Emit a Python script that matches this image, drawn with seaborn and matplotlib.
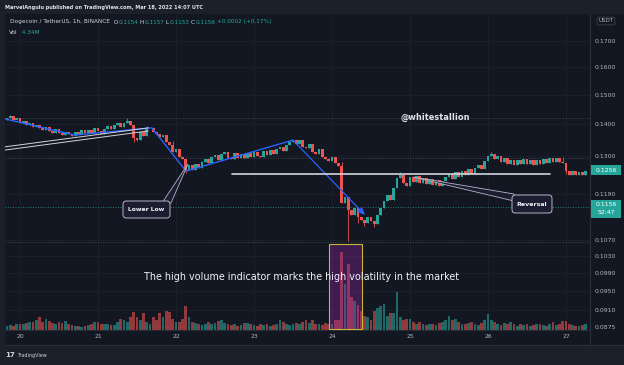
import numpy as np
import pandas as pd
import matplotlib
matplotlib.use("Agg")
import matplotlib.pyplot as plt
import seaborn as sns
from matplotlib.patches import Rectangle, Polygon, FancyBboxPatch
from matplotlib.lines import Line2D
from matplotlib.ticker import NullLocator

# ---------------- data ----------------
hours = list(range(-4, 175))          # hourly candles, 0 = day 20 00:00
first_open = 0.1414
closes = [
    0.1422, 0.1428, 0.1415, 0.1420, 0.1406, 0.1411, 0.1398, 0.1405, 0.1393, 0.1399,
    0.1387, 0.1382, 0.1392, 0.1379, 0.1374, 0.1385, 0.1373, 0.1366, 0.1377, 0.1369,
    0.1364, 0.1376, 0.1369, 0.1381, 0.1371, 0.1382, 0.1374, 0.1387, 0.1378, 0.1370,
    0.1386, 0.1394, 0.1384, 0.1398, 0.1404, 0.1392, 0.1406, 0.1412, 0.1397, 0.1358,
    0.1350, 0.1375, 0.1364, 0.1387, 0.1390, 0.1377, 0.1368, 0.1360, 0.1367, 0.1345,
    0.1336, 0.1312, 0.1322, 0.1298, 0.1292, 0.1260, 0.1273, 0.1258, 0.1276, 0.1266,
    0.1282, 0.1292, 0.1280, 0.1297, 0.1303, 0.1290, 0.1308, 0.1313, 0.1296, 0.1292,
    0.1309, 0.1295, 0.1307, 0.1294, 0.1310, 0.1298, 0.1313, 0.1300, 0.1297, 0.1315,
    0.1303, 0.1318, 0.1307, 0.1322, 0.1330, 0.1317, 0.1336, 0.1344, 0.1350, 0.1337,
    0.1349, 0.1330, 0.1324, 0.1338, 0.1314, 0.1308, 0.1321, 0.1298, 0.1292, 0.1285,
    0.1298, 0.1279, 0.1271, 0.1165, 0.1182, 0.1148, 0.1134, 0.1152, 0.1128, 0.1122,
    0.1113, 0.1129, 0.1118, 0.1111, 0.1133, 0.1154, 0.1172, 0.1188, 0.1175, 0.1209,
    0.1236, 0.1246, 0.1222, 0.1213, 0.1238, 0.1225, 0.1241, 0.1221, 0.1235, 0.1218,
    0.1232, 0.1216, 0.1231, 0.1214, 0.1227, 0.1240, 0.1248, 0.1234, 0.1253, 0.1240,
    0.1256, 0.1244, 0.1262, 0.1248, 0.1266, 0.1275, 0.1262, 0.1287, 0.1302, 0.1306,
    0.1291, 0.1300, 0.1284, 0.1295, 0.1277, 0.1290, 0.1275, 0.1288, 0.1278, 0.1292,
    0.1277, 0.1289, 0.1275, 0.1288, 0.1278, 0.1291, 0.1280, 0.1294, 0.1282, 0.1295,
    0.1284, 0.1280, 0.1257, 0.1246, 0.1257, 0.1244, 0.1254, 0.1246, 0.1256,
]
volumes = [   # millions
    3.0, 3.5, 3.2, 4.0, 4.5, 4.0, 5.0, 5.5, 6.0, 7.0,
    9.5, 6.0, 8.0, 6.5, 5.0, 4.0, 6.0, 5.0, 6.5, 4.0,
    3.5, 3.0, 3.0, 2.5, 3.0, 3.5, 4.5, 5.5, 5.5, 4.5,
    4.5, 4.0, 3.5, 3.5, 6.0, 8.0, 7.0, 5.5, 9.0, 13.0,
    9.0, 7.5, 12.5, 6.0, 4.0, 9.0, 7.0, 12.0, 9.0, 13.5,
    13.0, 8.0, 6.0, 5.5, 8.0, 17.0, 9.0, 5.5, 5.0, 4.5,
    3.5, 4.0, 5.5, 4.5, 5.0, 6.5, 7.5, 5.0, 4.5, 3.5,
    4.0, 3.0, 3.5, 5.0, 5.0, 4.0, 3.5, 3.0, 4.5, 3.5,
    4.0, 3.0, 3.5, 4.5, 7.0, 5.5, 4.5, 3.5, 4.0, 5.0,
    4.5, 5.5, 7.0, 5.0, 7.5, 4.0, 4.0, 3.5, 5.0, 4.0,
    4.5, 7.5, 7.5, 56.0, 33.0, 47.5, 24.0, 21.0, 18.0, 14.0,
    10.0, 9.0, 7.5, 14.0, 16.0, 17.5, 19.0, 10.0, 12.5, 12.0,
    27.5, 9.0, 7.5, 8.0, 8.0, 5.5, 4.5, 6.0, 4.0, 3.5,
    4.0, 4.5, 3.5, 5.0, 6.0, 7.0, 10.0, 7.0, 8.0, 5.5,
    4.5, 4.0, 5.0, 5.5, 4.0, 3.5, 5.0, 7.0, 11.5, 7.0,
    5.5, 4.5, 3.5, 5.0, 4.0, 5.5, 4.0, 3.0, 4.5, 3.5,
    4.0, 3.0, 3.5, 4.5, 4.0, 3.5, 3.0, 4.0, 5.5, 3.5,
    4.0, 6.5, 6.5, 4.5, 3.5, 3.0, 3.0, 3.5, 4.34,
]
wick_high = {-3: 0.1431, 27: 0.1398, 33: 0.1421, 39: 0.1394, 47: 0.1347, 56: 0.1287,
             83: 0.1348, 99: 0.1283, 117: 0.1252, 145: 0.1312, 167: 0.1298}
wick_low = {35: 0.1343, 36: 0.1346, 51: 0.1250, 101: 0.1068, 104: 0.1114,
            106: 0.1106, 109: 0.1104, 168: 0.1248}

day_hours = [0, 24, 48, 72, 96, 120, 144, 168]
day_labels = ["20", "21", "22", "23", "24", "25", "26", "27"]
price_ticks = [0.1700, 0.1600, 0.1500, 0.1400, 0.1300, 0.1190, 0.1070,
               0.1030, 0.0990, 0.0950, 0.0910, 0.0875]

# drawings (hour, price)
blue_h = [-4.6, 16.9, 40.6, 51.1, 84.0]
blue_p = [0.1418, 0.1366, 0.1389, 0.1256, 0.1350]
arrow_start = (84.0, 0.1350)
arrow_end = (106.2, 0.1134)
white_a_h, white_a_p = [-4.6, 39.5], [0.1329, 0.1389]
white_b_h, white_b_p = [-4.6, 39.5], [0.1319, 0.1379]
level_h, level_p = [65.2, 163.0], 0.1248
dotted_levels = [0.1421, 0.1295, 0.1065]
current_price = 0.1156
highlight_h = (95.1, 105.2)
highlight_p = (0.0871, 0.1059)

# ---------------- style ----------------
W, H = 624, 365
OUTER = "#1c202b"
BG = "#131722"
GRID = "#1c212c"
TXT = "#b2b5be"
UP = "#26a69a"
DOWN = "#ef5350"
BLUE = "#2962ff"

sns.set_theme(style="dark")
plt.rcParams["font.family"] = ["DejaVu Sans"]

fig = plt.figure(figsize=(W / 100, H / 100), dpi=100, facecolor=OUTER)
IN = fig.dpi_scale_trans
renderer = fig.canvas.get_renderer()


def pin(x, y):
    return (x / 100.0, (H - y) / 100.0)


# panel background (drawn beneath the axes)
fig.patches.append(Rectangle(pin(5, 345), 619 / 100, 331 / 100, transform=IN,
                             facecolor=BG, edgecolor="none", zorder=-5))

ax = fig.add_axes([5 / W, (H - 330) / H, 585 / W, 316 / H])
ax.set_facecolor(BG)
axv = ax.twinx()
axv.patch.set_visible(False)

opens = [first_open] + closes[:-1]
highs = [wick_high.get(h, max(o, c)) for h, o, c in zip(hours, opens, closes)]
lows = [wick_low.get(h, min(o, c)) for h, o, c in zip(hours, opens, closes)]
direction = ["up" if c >= o else "down" for o, c in zip(opens, closes)]
colors = [UP if d == "up" else DOWN for d in direction]

df = pd.DataFrame({"h": hours, "open": opens, "close": closes, "high": highs,
                   "low": lows, "vol": volumes, "dir": direction})

# volume (seaborn)
sns.barplot(data=df, x="h", y="vol", hue="dir", palette={"up": UP, "down": DOWN},
            native_scale=True, dodge=False, width=0.8, saturation=1, alpha=0.58,
            legend=False, errorbar=None, ax=axv, linewidth=0)
axv.set_ylim(0, 227)
axv.set_yticks([])
axv.set_ylabel("")
axv.set_xlabel("")

# candles
body_lo = np.minimum(df["open"], df["close"])
body_hi = np.maximum(df["open"], df["close"])
body_h = np.maximum(body_hi - body_lo, 0.00008)
ax.vlines(df["h"], df["low"], df["high"], colors=colors, linewidth=0.6, zorder=3)
ax.bar(df["h"], body_h, bottom=body_lo, width=0.82, color=colors, linewidth=0, zorder=4)

ax.set_yscale("log")
ax.set_ylim(0.0868, 0.1810)
ax.set_xlim(-4.6, 175.4)
ax.yaxis.set_minor_locator(NullLocator())
ax.set_yticks(price_ticks)
ax.set_yticklabels([f"{p:.4f}" for p in price_ticks])
ax.yaxis.tick_right()
ax.set_xticks(day_hours)
ax.set_xticklabels(day_labels)
ax.tick_params(axis="both", length=0, labelsize=4.4, colors=TXT)
ax.tick_params(axis="y", pad=3)
ax.tick_params(axis="x", pad=3)
ax.set_xlabel("")
ax.set_ylabel("")
ax.grid(True, color=GRID, linewidth=0.6)
for a in (ax, axv):
    for s in a.spines.values():
        s.set_visible(False)
ax.spines["right"].set_visible(True)
ax.spines["right"].set_color("#2a2e39")
ax.spines["right"].set_linewidth(0.8)
ax.spines["bottom"].set_visible(True)
ax.spines["bottom"].set_color("#2a2e39")
ax.spines["bottom"].set_linewidth(0.6)

# level lines
for lv in dotted_levels:
    ax.axhline(lv, color="#4a4d57", linewidth=0.6, linestyle=(0, (1.2, 1.8)), zorder=1)
ax.axhline(current_price, color=UP, linewidth=0.6, linestyle=(0, (1.2, 1.8)), alpha=0.8, zorder=1)

# drawings
ax.plot(blue_h, blue_p, color=BLUE, linewidth=1.0, zorder=5)
ax.annotate("", xy=arrow_end, xytext=arrow_start,
            arrowprops=dict(arrowstyle="-|>,head_length=0.35,head_width=0.15",
                            color=BLUE, linewidth=0.9, shrinkA=0, shrinkB=0), zorder=5)
ax.plot(white_a_h, white_a_p, color="#d1d4dc", linewidth=0.7, zorder=5)
ax.plot(white_b_h, white_b_p, color="#d1d4dc", linewidth=0.7, zorder=5)
ax.plot(level_h, [level_p, level_p], color="#d1d4dc", linewidth=1.2, zorder=5)

# highlight box over the volume spike
axv.add_patch(Rectangle((highlight_h[0], highlight_p[0]), highlight_h[1] - highlight_h[0],
                        highlight_p[1] - highlight_p[0], transform=ax.transData,
                        facecolor="#9c27b0", alpha=0.32, edgecolor="none", zorder=10, clip_on=False))
axv.add_patch(Rectangle((highlight_h[0], highlight_p[0]), highlight_h[1] - highlight_h[0],
                        highlight_p[1] - highlight_p[0], transform=ax.transData,
                        facecolor="none", edgecolor="#c8b634", linewidth=0.8, zorder=11, clip_on=False))

# ---------------- texts ----------------


def fitted_text(x, y, s, width_px, base=5.0, **kw):
    t = fig.text(x / 100, (H - y) / 100, s, transform=IN, fontsize=base, **kw)
    w = t.get_window_extent(renderer=renderer).width
    t.set_fontsize(base * width_px / w)
    return t


def chain(x, y, parts, width_px, base=5.0, weight="normal"):
    texts = []
    for s, c in parts:
        texts.append(fig.text(0, 0, s, transform=IN, color=c, fontsize=base,
                              va="center", ha="left", weight=weight))
    total = sum(t.get_window_extent(renderer=renderer).width for t in texts)
    size = base * width_px / total
    for t in texts:
        t.set_fontsize(size)
        t.set_position((x / 100, (H - y) / 100))
        x += t.get_window_extent(renderer=renderer).width


fitted_text(5, 7, "MarvelAngulu published on TradingView.com, Mar 18, 2022 14:07 UTC", 200,
            color="#e0e3eb", va="center", ha="left", weight="bold")
chain(10, 22, [("Dogecoin / TetherUS, 1h, BINANCE", "#d1d4dc"), ("  O", "#d1d4dc"),
               ("0.1154", UP), (" H", "#d1d4dc"), ("0.1157", UP), (" L", "#d1d4dc"),
               ("0.1153", UP), (" C", "#d1d4dc"), ("0.1156", UP),
               (" +0.0002 (+0.17%)", UP)], 262)
chain(9, 32, [("Vol", "#d1d4dc"), ("  4.34M", UP)], 30)

fitted_text(435, 117, "@whitestallion", 70, color="#e0e3eb", va="center", ha="center",
            weight="bold", zorder=20)
fitted_text(301, 277, "The high volume indicator marks the high volatility in the market", 318,
            color="#f0f3fa", va="center", ha="center", zorder=20)

BOXF = "#1d1c30"
BOXE = "#b6b4c6"
# Lower Low callout
fig.patches.append(Polygon([pin(188, 164), pin(162, 203), pin(171, 203)], closed=True,
                           transform=IN, facecolor=BOXF, edgecolor=BOXE, linewidth=0.6, zorder=6))
fig.patches.append(FancyBboxPatch(pin(123, 218), 47 / 100, 17 / 100, transform=IN,
                                  boxstyle="round,pad=0,rounding_size=0.035",
                                  facecolor=BOXF, edgecolor=BOXE, linewidth=0.7, zorder=7))
fitted_text(146.5, 209.5, "Lower Low", 37, color="#f0f3fa", va="center", ha="center",
            weight="bold", zorder=8)
# Reversal callout
fig.patches.append(Polygon([pin(413, 177), pin(514, 194), pin(514, 201)], closed=True,
                           transform=IN, facecolor=BOXF, edgecolor=BOXE, linewidth=0.6, zorder=6))
fig.patches.append(FancyBboxPatch(pin(512, 213), 40 / 100, 18 / 100, transform=IN,
                                  boxstyle="round,pad=0,rounding_size=0.035",
                                  facecolor=BOXF, edgecolor=BOXE, linewidth=0.7, zorder=7))
fitted_text(532, 204, "Reversal", 31, color="#f0f3fa", va="center", ha="center",
            weight="bold", zorder=8)

# price badges
fig.patches.append(Rectangle(pin(591, 175), 30 / 100, 10 / 100, transform=IN,
                             facecolor=UP, edgecolor="none", zorder=6))
fig.text(*pin(606, 170), "0.1256", transform=IN, color="white", fontsize=4.4,
         va="center", ha="center", zorder=7)
fig.patches.append(Rectangle(pin(591, 218), 30 / 100, 18 / 100, transform=IN,
                             facecolor=UP, edgecolor="none", zorder=6))
fig.text(*pin(606, 205), "0.1156", transform=IN, color="white", fontsize=4.4,
         va="center", ha="center", zorder=7)
fig.text(*pin(606, 213), "52:47", transform=IN, color="white", fontsize=4.4,
         va="center", ha="center", zorder=7)
fig.text(*pin(606, 21), "USDT", transform=IN, color=TXT, fontsize=4.0, va="center",
         ha="center", zorder=7,
         bbox=dict(boxstyle="round,pad=0.25", facecolor=BG, edgecolor="#434651", linewidth=0.5))

# panel frame lines
fig.add_artist(Line2D([5 / W, 1], [(H - 345) / H] * 2, color="#2a2e39", linewidth=0.8))
fig.add_artist(Line2D([590 / W] * 2, [(H - 345) / H, (H - 14) / H], color="#2a2e39", linewidth=0.8))

# TradingView logo
fig.text(*pin(5, 355), "17", transform=IN, color="#d1d4dc", fontsize=5.0, va="center",
         ha="left", weight="bold")
fitted_text(17, 355, "TradingView", 30, color="#d1d4dc", va="center", ha="left")

fig.savefig("out.png", dpi=100, facecolor=fig.get_facecolor())
